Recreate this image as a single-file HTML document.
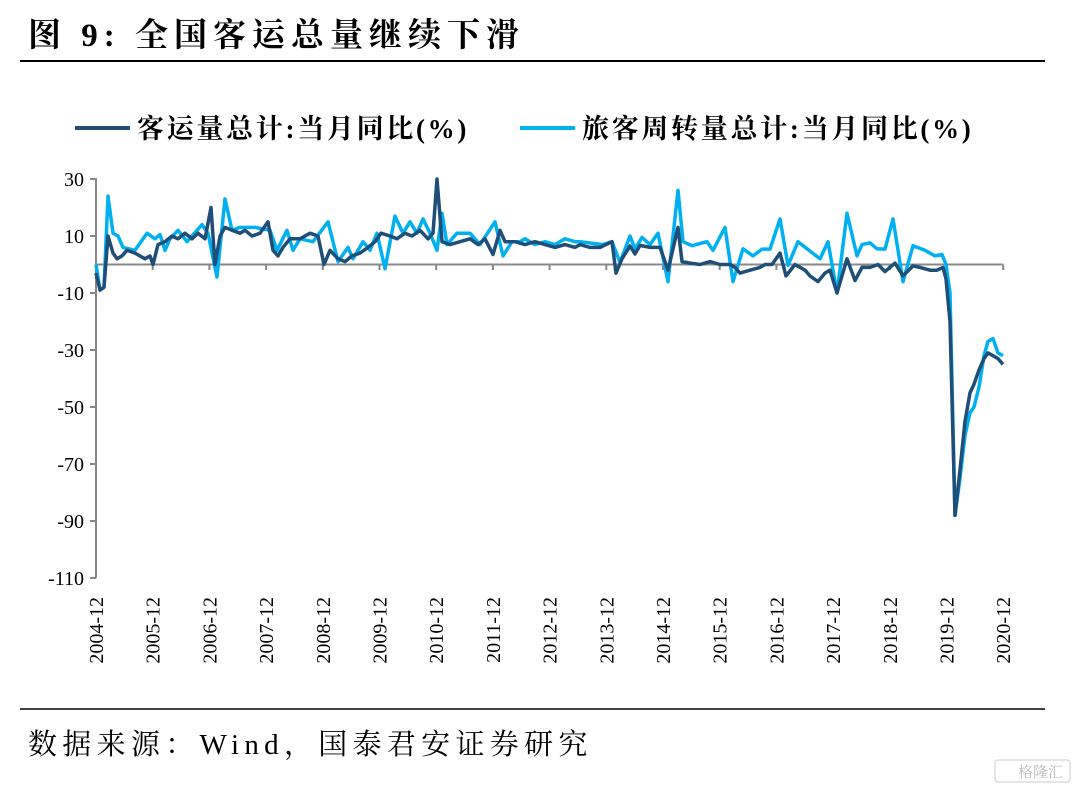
<!DOCTYPE html>
<html><head><meta charset="utf-8"><style>
html,body{margin:0;padding:0;background:#fff;width:1080px;height:789px;overflow:hidden}
svg{display:block}
</style></head><body>
<svg id="c" width="1080" height="789" xmlns="http://www.w3.org/2000/svg" font-family="'Liberation Serif','Noto Serif CJK SC',serif">
<text x="28" y="46" font-size="33" font-weight="bold" fill="#000" letter-spacing="6">图 9:  全国客运总量继续下滑</text>
<line x1="20" y1="61" x2="1045" y2="61" stroke="#000" stroke-width="2"/>
<line x1="75" y1="128" x2="130" y2="128" stroke="#1f4e79" stroke-width="4"/>
<text x="137" y="138" font-size="27" font-weight="bold" letter-spacing="2.7">客运量总计:当月同比(%)</text>
<line x1="520" y1="128" x2="575" y2="128" stroke="#00b0f0" stroke-width="4"/>
<text x="582" y="138" font-size="27" font-weight="bold" letter-spacing="2.7">旅客周转量总计:当月同比(%)</text>
<g id="ax" stroke="#888" stroke-width="2"></g>
<g id="lab" font-size="20" fill="#000"></g>
<polyline id="L" fill="none" stroke="#00b0f0" stroke-width="3.5" stroke-linejoin="round"/>
<polyline id="D" fill="none" stroke="#1f4e79" stroke-width="3.5" stroke-linejoin="round"/>
<line x1="20" y1="709" x2="1045" y2="709" stroke="#000" stroke-width="1.5"/>
<text x="28" y="754" font-size="29" letter-spacing="5.3">数据来源：Wind，国泰君安证券研究</text>
<rect x="995" y="760" width="75" height="22" rx="3" fill="none" stroke="#ccc"/>
<text x="1018" y="777" font-size="15" fill="#bbb">格隆汇</text>
</svg>
<script>
var Y=function(v){return 264.5-v*2.85};
var ns="http://www.w3.org/2000/svg";
function el(p,t,a,tx){var e=document.createElementNS(ns,t);for(var k in a)e.setAttribute(k,a[k]);if(tx)e.textContent=tx;p.appendChild(e);return e;}
var ax=document.getElementById('ax'),lab=document.getElementById('lab');
el(ax,'line',{x1:96,y1:178,x2:96,y2:578});
el(ax,'line',{x1:96,y1:264.5,x2:1003,y2:264.5});
for(var v=30;v>=-110;v-=20){var y=Y(v);el(ax,'line',{x1:90,y1:y,x2:96,y2:y});el(lab,'text',{x:84,y:y+7,'text-anchor':'end'},String(v));}
for(var k=0;k<=16;k++){var x=96+k*56.7;if(k>0)el(ax,'line',{x1:x,y1:264.5,x2:x,y2:270});
el(lab,'text',{x:0,y:0,transform:'translate('+(x+7)+',597) rotate(-90)','text-anchor':'end'},(2004+k)+'-12');}
var D=[96,-3,100,-9,104,-8,108,10,113,4,117,2,122,3,127,5,135,4,145,2,150,3,153,0,158,7,165,8,172,10,178,9,185,11,192,9,198,11,205,9,211,20,215,0,220,10,225,13,232,12,240,11,245,12,252,10,260,11,268,15,273,5,278,3,283,6,290,9,300,9,310,11,318,10,324,0,330,5,338,2,345,1,352,3,360,4,368,6,375,8,381,11,390,10,397,9,405,11,412,10,420,12,428,9,433,11,437,30,442,8,450,7,460,8,470,9,478,7,485,9,493,3.5,500,12,505,8,515,8,525,7,535,8,545,7,555,6,565,7,575,6,580,7,590,6,600,6,612,8,616,-3,622,2,630,6.5,635,3.7,640,6.7,650,6,660,6,668,-2,678,13,682,1,690,0.5,700,0,710,1,720,0,730,0,735,-1,740,-3,750,-2,760,-1,765,0,772,0,780,4,786,-4,795,0,805,-2,810,-4,818,-6,825,-3,830,-2,837,-10,847,2,855,-5.6,862,-1,870,-1,878,0,885,-2.5,895,0.5,903,-4,913,-0.5,920,-1,930,-2,937,-2,943,-1,946,-5,950,-20,955,-88,960,-72,965,-55,970,-45,974,-42,979,-37,984,-33,988,-31,993,-32,998,-33,1003,-35];
var L=[96,0,100,-9,104,-8,108,24,113,11,118,10,123,6,135,5,147,11,155,9,160,10.5,165,5,170,9,178,12,187,8,202,14,208,11,217,-4.4,225,23,232,12,240,13,255,13,270,12,277,5,287,12,293,5,300,9,313,8,328,15,338,1,348,6,353,2,363,8,370,5,377,11,385,-1.5,395,17,403,11,410,15,417,11,423,16,430,11,437,5,442,18,447,7,457,11,470,11,480,7,495,15,503,3,512,8,520,8,525,9,535,7,545,8,555,7,565,9,575,8,580,8,603,7,612,8,620,0.7,630,10,635,5.5,642,9.5,650,7,658,11,668,-6,678,26,683,8,692,6.6,707,8,713,5,725,13,733,-6,743,5.5,753,3,762,5.4,770,5.4,780,16,788,-0.3,798,8,807,5.5,820,2,828,8,837,-10,847,18,857,3,862,7,870,7.6,877,5.5,885,5.4,893,16,903,-6,913,6.6,925,5,935,3,942,3.5,946,0,950,-10,955,-88,960,-75,965,-60,970,-52,974,-50,979,-43,984,-32,988,-27,993,-26,998,-31,1003,-32];
function pts(a){var s=[];for(var i=0;i<a.length;i+=2)s.push(a[i]+','+Y(a[i+1]).toFixed(1));return s.join(' ');}
document.getElementById('D').setAttribute('points',pts(D));
document.getElementById('L').setAttribute('points',pts(L));
</script>
</body></html>
